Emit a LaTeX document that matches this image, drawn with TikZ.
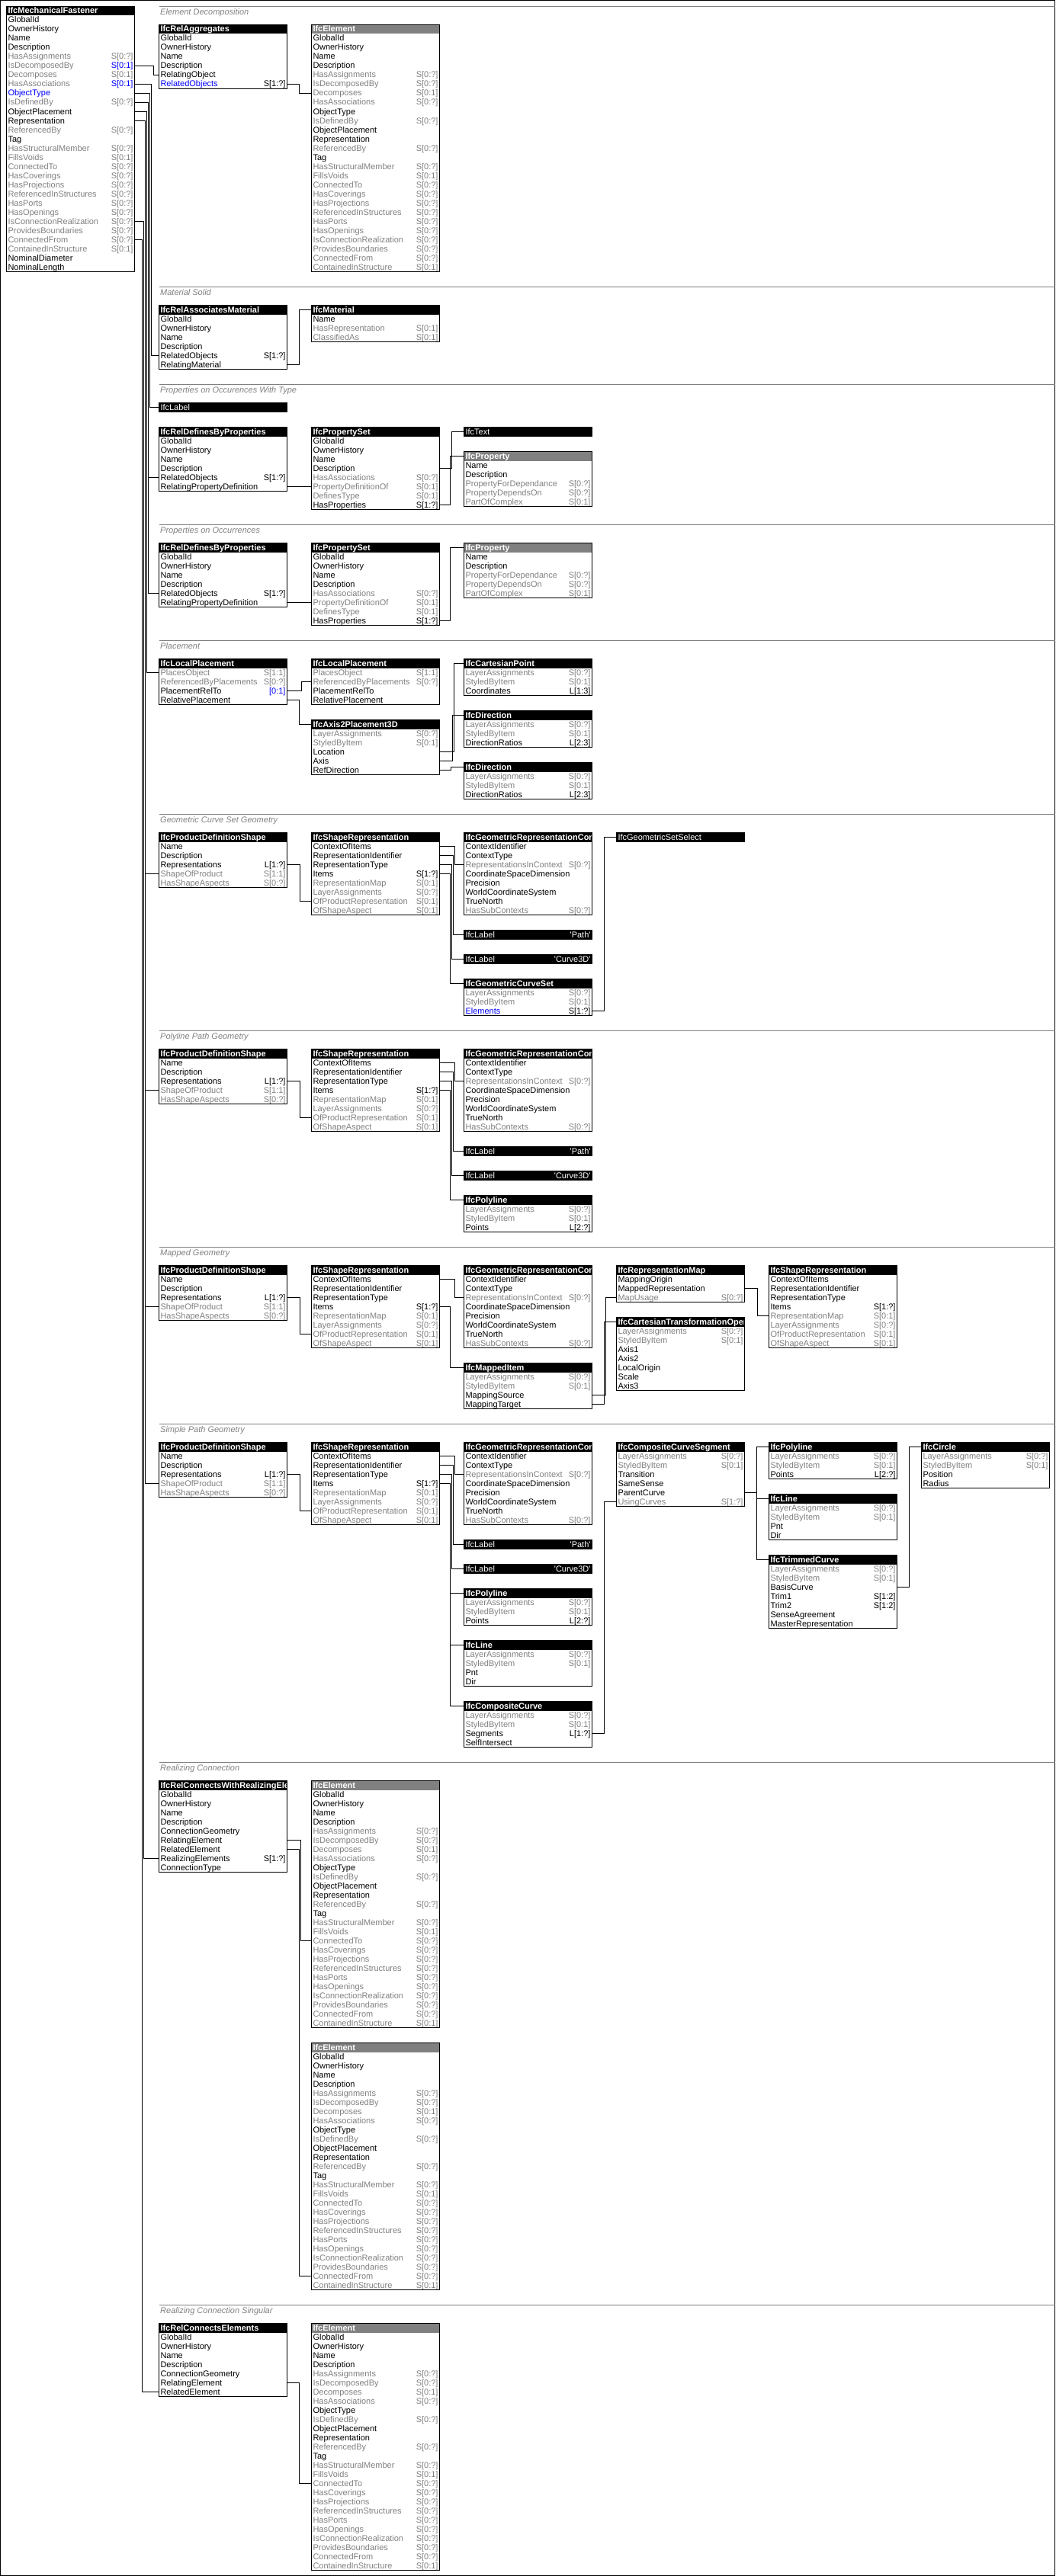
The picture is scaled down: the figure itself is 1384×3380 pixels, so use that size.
\documentclass[tikz,border=0pt]{standalone}
\usepackage{fontspec}
\setmainfont{Liberation Sans}
\definecolor{ifcgray}{RGB}{128,128,128}
\definecolor{ifcblue}{RGB}{0,0,255}
\colorlet{nma}{black}\colorlet{cda}{black}
\colorlet{nmi}{ifcgray}\colorlet{cdi}{ifcgray}
\colorlet{nmn}{ifcblue}\colorlet{cdn}{black}
\colorlet{nmc}{ifcgray}\colorlet{cdc}{ifcblue}
\colorlet{nmp}{black}\colorlet{cdp}{ifcblue}
\newcommand\entfont{\fontsize{11pt}{12pt}\selectfont}
\newcommand\entbox[6]{%
  \edef\entrows{#6}%
  \begin{scope}
    \clip (#2,#3) rectangle ++(168,12);
    \node[#4] (#1-1) at (#2,#3) {\makebox[164pt][l]{#5}};
  \end{scope}
  \foreach \an/\tc/\cd [count=\i from 2] in \entrows {
    \pgfmathsetmacro\ry{#3+12*(\i-1)}
    \node[attr] (#1-\i) at (#2,\ry) {\makebox[164pt][l]{\textcolor{nm\tc}{\an}\hfill\textcolor{cd\tc}{\cd}}};
    \xdef\entnrows{\i}
  }
  \draw[boxline] (#2,#3) rectangle ++(168,12*\entnrows);
}
\newcommand\enttype[4]{\node[typebox] (#1) at (#2,#3) {\makebox[164pt][l]{#4}};}
\newcommand\entlink[3]{\draw[wire] (#1.east) -- (#1.east -| #3,0) -- (#2.west -| #3,0) -- (#2.west);}
\def\rootrows{GlobalId/a/{},OwnerHistory/a/{},Name/a/{},Description/a/{}}
\def\geomrows{LayerAssignments/i/S[0:?],StyledByItem/i/S[0:1]}
\def\elmtail{ObjectPlacement/a/{},Representation/a/{},ReferencedBy/i/S[0:?],Tag/a/{},%
HasStructuralMember/i/S[0:?],FillsVoids/i/S[0:1],ConnectedTo/i/S[0:?],HasCoverings/i/S[0:?],%
HasProjections/i/S[0:?],ReferencedInStructures/i/S[0:?],HasPorts/i/S[0:?],HasOpenings/i/S[0:?],%
IsConnectionRealization/i/S[0:?],ProvidesBoundaries/i/S[0:?],ConnectedFrom/i/S[0:?],%
ContainedInStructure/i/S[0:1]}
\def\elmrows{\rootrows,HasAssignments/i/S[0:?],IsDecomposedBy/i/S[0:?],Decomposes/i/S[0:1],%
HasAssociations/i/S[0:?],ObjectType/a/{},IsDefinedBy/i/S[0:?],\elmtail}
\def\fasrows{\rootrows,HasAssignments/i/S[0:?],IsDecomposedBy/c/S[0:1],Decomposes/i/S[0:1],%
HasAssociations/c/S[0:1],ObjectType/n/{},IsDefinedBy/i/S[0:?],\elmtail,%
NominalDiameter/a/{},NominalLength/a/{}}
\def\psetrows{\rootrows,HasAssociations/i/S[0:?],PropertyDefinitionOf/i/S[0:1],%
DefinesType/i/S[0:1],HasProperties/a/S[1:?]}
\def\proprows{Name/a/{},Description/a/{},PropertyForDependance/i/S[0:?],%
PropertyDependsOn/i/S[0:?],PartOfComplex/i/S[0:1]}
\def\pdsrows{Name/a/{},Description/a/{},Representations/a/L[1:?],ShapeOfProduct/i/S[1:1],%
HasShapeAspects/i/S[0:?]}
\def\srrows{ContextOfItems/a/{},RepresentationIdentifier/a/{},RepresentationType/a/{},%
Items/a/S[1:?],RepresentationMap/i/S[0:1],LayerAssignments/i/S[0:?],%
OfProductRepresentation/i/S[0:1],OfShapeAspect/i/S[0:1]}
\def\grcrows{ContextIdentifier/a/{},ContextType/a/{},RepresentationsInContext/i/S[0:?],%
CoordinateSpaceDimension/a/{},Precision/a/{},WorldCoordinateSystem/a/{},TrueNorth/a/{},%
HasSubContexts/i/S[0:?]}
\begin{document}
\begin{tikzpicture}[x=1pt,y=-1pt,
  attr/.style={anchor=north west,minimum width=168pt,minimum height=12pt,inner xsep=2pt,
    inner ysep=0pt,outer sep=0pt,text height=9.5pt,text depth=2.5pt,font=\entfont},
  hdblack/.style={attr,fill=black,text=white,font=\entfont\bfseries},
  hdgray/.style={attr,fill=ifcgray,text=white,font=\entfont\bfseries},
  typebox/.style={attr,fill=black,text=white,draw=black,line width=1pt},
  boxline/.style={draw=black,line width=1pt},
  wire/.style={draw=black,line width=1pt},
  sepline/.style={draw=ifcgray,line width=1pt},
  seclabel/.style={anchor=base west,inner sep=0pt,text=ifcgray,font=\entfont\itshape}]
  \useasboundingbox (0,0) rectangle (1384,3380);
  \draw[boxline] (0.5,0.5) rectangle (1383.5,3379.5);
  \foreach \sy/\sn/\st in {8.5/secA/Element Decomposition,376.5/secB/Material Solid,
      504.5/secC/Properties on Occurences With Type,688.5/secD/Properties on Occurrences,
      840.5/secE/Placement,1068.5/secF/Geometric Curve Set Geometry,
      1352.5/secG/Polyline Path Geometry,1636.5/secH/Mapped Geometry,
      1868.5/secI/Simple Path Geometry,2312.5/secJ/Realizing Connection,
      3024.5/secK/Realizing Connection Singular} {
    \draw[sepline] (208.5,\sy) -- (1383.5,\sy);
    \node[seclabel] (\sn) at (210,\sy+11) {\st};
  }
  \entbox{fas}{8.5}{8.5}{hdblack}{IfcMechanicalFastener}{\fasrows}
  \entbox{agg}{208.5}{32.5}{hdblack}{IfcRelAggregates}{\rootrows,RelatingObject/a/{},RelatedObjects/n/S[1:?]}
  \entbox{elA}{408.5}{32.5}{hdgray}{IfcElement}{\elmrows}
  \entbox{ram}{208.5}{400.5}{hdblack}{IfcRelAssociatesMaterial}{\rootrows,RelatedObjects/a/S[1:?],RelatingMaterial/a/{}}
  \entbox{mat}{408.5}{400.5}{hdblack}{IfcMaterial}{Name/a/{},HasRepresentation/i/S[0:1],ClassifiedAs/i/S[0:1]}
  \enttype{lblT}{208.5}{528.5}{IfcLabel}
  \entbox{rdpA}{208.5}{560.5}{hdblack}{IfcRelDefinesByProperties}{\rootrows,RelatedObjects/a/S[1:?],RelatingPropertyDefinition/a/{}}
  \entbox{psA}{408.5}{560.5}{hdblack}{IfcPropertySet}{\psetrows}
  \enttype{txt}{608.5}{560.5}{IfcText}
  \entbox{prA}{608.5}{592.5}{hdgray}{IfcProperty}{\proprows}
  \entbox{rdpB}{208.5}{712.5}{hdblack}{IfcRelDefinesByProperties}{\rootrows,RelatedObjects/a/S[1:?],RelatingPropertyDefinition/a/{}}
  \entbox{psB}{408.5}{712.5}{hdblack}{IfcPropertySet}{\psetrows}
  \entbox{prB}{608.5}{712.5}{hdgray}{IfcProperty}{\proprows}
  \entbox{lpA}{208.5}{864.5}{hdblack}{IfcLocalPlacement}{PlacesObject/i/S[1:1],ReferencedByPlacements/i/S[0:?],PlacementRelTo/p/[0:1],RelativePlacement/a/{}}
  \entbox{lpB}{408.5}{864.5}{hdblack}{IfcLocalPlacement}{PlacesObject/i/S[1:1],ReferencedByPlacements/i/S[0:?],PlacementRelTo/a/{},RelativePlacement/a/{}}
  \entbox{axp}{408.5}{944.5}{hdblack}{IfcAxis2Placement3D}{\geomrows,Location/a/{},Axis/a/{},RefDirection/a/{}}
  \entbox{cpt}{608.5}{864.5}{hdblack}{IfcCartesianPoint}{\geomrows,Coordinates/a/L[1:3]}
  \entbox{dirA}{608.5}{932.5}{hdblack}{IfcDirection}{\geomrows,DirectionRatios/a/L[2:3]}
  \entbox{dirB}{608.5}{1000.5}{hdblack}{IfcDirection}{\geomrows,DirectionRatios/a/L[2:3]}
  \entbox{pdsA}{208.5}{1092.5}{hdblack}{IfcProductDefinitionShape}{\pdsrows}
  \entbox{srA}{408.5}{1092.5}{hdblack}{IfcShapeRepresentation}{\srrows}
  \entbox{grcA}{608.5}{1092.5}{hdblack}{IfcGeometricRepresentationContext}{\grcrows}
  \enttype{lbpA}{608.5}{1220.5}{IfcLabel\hfill\textquotesingle Path\textquotesingle}
  \enttype{lbcA}{608.5}{1252.5}{IfcLabel\hfill\textquotesingle Curve3D\textquotesingle}
  \entbox{gcs}{608.5}{1284.5}{hdblack}{IfcGeometricCurveSet}{\geomrows,Elements/n/S[1:?]}
  \enttype{gss}{808.5}{1092.5}{IfcGeometricSetSelect}
  \entbox{pdsB}{208.5}{1376.5}{hdblack}{IfcProductDefinitionShape}{\pdsrows}
  \entbox{srB}{408.5}{1376.5}{hdblack}{IfcShapeRepresentation}{\srrows}
  \entbox{grcB}{608.5}{1376.5}{hdblack}{IfcGeometricRepresentationContext}{\grcrows}
  \enttype{lbpB}{608.5}{1504.5}{IfcLabel\hfill\textquotesingle Path\textquotesingle}
  \enttype{lbcB}{608.5}{1536.5}{IfcLabel\hfill\textquotesingle Curve3D\textquotesingle}
  \entbox{plA}{608.5}{1568.5}{hdblack}{IfcPolyline}{\geomrows,Points/a/L[2:?]}
  \entbox{pdsC}{208.5}{1660.5}{hdblack}{IfcProductDefinitionShape}{\pdsrows}
  \entbox{srC}{408.5}{1660.5}{hdblack}{IfcShapeRepresentation}{\srrows}
  \entbox{grcC}{608.5}{1660.5}{hdblack}{IfcGeometricRepresentationContext}{\grcrows}
  \entbox{mpi}{608.5}{1788.5}{hdblack}{IfcMappedItem}{\geomrows,MappingSource/a/{},MappingTarget/a/{}}
  \entbox{rmp}{808.5}{1660.5}{hdblack}{IfcRepresentationMap}{MappingOrigin/a/{},MappedRepresentation/a/{},MapUsage/i/S[0:?]}
  \entbox{cto}{808.5}{1728.5}{hdblack}{IfcCartesianTransformationOperator3D}{\geomrows,Axis1/a/{},Axis2/a/{},LocalOrigin/a/{},Scale/a/{},Axis3/a/{}}
  \entbox{srM}{1008.5}{1660.5}{hdblack}{IfcShapeRepresentation}{\srrows}
  \entbox{pdsD}{208.5}{1892.5}{hdblack}{IfcProductDefinitionShape}{\pdsrows}
  \entbox{srD}{408.5}{1892.5}{hdblack}{IfcShapeRepresentation}{\srrows}
  \entbox{grcD}{608.5}{1892.5}{hdblack}{IfcGeometricRepresentationContext}{\grcrows}
  \enttype{lbpD}{608.5}{2020.5}{IfcLabel\hfill\textquotesingle Path\textquotesingle}
  \enttype{lbcD}{608.5}{2052.5}{IfcLabel\hfill\textquotesingle Curve3D\textquotesingle}
  \entbox{plB}{608.5}{2084.5}{hdblack}{IfcPolyline}{\geomrows,Points/a/L[2:?]}
  \entbox{lnA}{608.5}{2152.5}{hdblack}{IfcLine}{\geomrows,Pnt/a/{},Dir/a/{}}
  \entbox{ccv}{608.5}{2232.5}{hdblack}{IfcCompositeCurve}{\geomrows,Segments/a/L[1:?],SelfIntersect/a/{}}
  \entbox{ccs}{808.5}{1892.5}{hdblack}{IfcCompositeCurveSegment}{\geomrows,Transition/a/{},SameSense/a/{},ParentCurve/a/{},UsingCurves/i/S[1:?]}
  \entbox{plC}{1008.5}{1892.5}{hdblack}{IfcPolyline}{\geomrows,Points/a/L[2:?]}
  \entbox{lnB}{1008.5}{1960.5}{hdblack}{IfcLine}{\geomrows,Pnt/a/{},Dir/a/{}}
  \entbox{trc}{1008.5}{2040.5}{hdblack}{IfcTrimmedCurve}{\geomrows,BasisCurve/a/{},Trim1/a/S[1:2],Trim2/a/S[1:2],SenseAgreement/a/{},MasterRepresentation/a/{}}
  \entbox{cir}{1208.5}{1892.5}{hdblack}{IfcCircle}{\geomrows,Position/a/{},Radius/a/{}}
  \entbox{rcw}{208.5}{2336.5}{hdblack}{IfcRelConnectsWithRealizingElements}{\rootrows,ConnectionGeometry/a/{},RelatingElement/a/{},RelatedElement/a/{},RealizingElements/a/S[1:?],ConnectionType/a/{}}
  \entbox{elB}{408.5}{2336.5}{hdgray}{IfcElement}{\elmrows}
  \entbox{elC}{408.5}{2680.5}{hdgray}{IfcElement}{\elmrows}
  \entbox{rce}{208.5}{3048.5}{hdblack}{IfcRelConnectsElements}{\rootrows,ConnectionGeometry/a/{},RelatingElement/a/{},RelatedElement/a/{}}
  \entbox{elD}{408.5}{3048.5}{hdgray}{IfcElement}{\elmrows}
  \entlink{fas-7}{agg-6}{201}
  \entlink{agg-7}{elA-8}{392}
  \entlink{fas-9}{ram-6}{198}
  \entlink{fas-10}{lblT}{196}
  \entlink{fas-11}{rdpA-6}{194}
  \entlink{fas-11}{rdpB-6}{194}
  \entlink{fas-12}{lpA-2}{192}
  \foreach \tg in {pdsA,pdsB,pdsC,pdsD} {
    \entlink{fas-13}{\tg-5}{190}
  }
  \entlink{fas-24}{rcw-9}{188}
  \entlink{fas-26}{rce-8}{186}
  \entlink{ram-7}{mat-1}{392}
  \entlink{rdpA-7}{psA-7}{392}
  \entlink{psA-5}{txt}{592}
  \entlink{psA-9}{prA-1}{590}
  \entlink{rdpB-7}{psB-7}{392}
  \entlink{psB-9}{prB-1}{590}
  \entlink{lpA-4}{lpB-3}{395}
  \entlink{lpA-5}{axp-1}{392}
  \entlink{axp-4}{cpt-1}{595}
  \entlink{axp-5}{dirA-1}{593}
  \entlink{axp-6}{dirB-1}{591}
  \foreach \p/\s/\g in {pdsA/srA/grcA,pdsB/srB/grcB,pdsC/srC/grcC,pdsD/srD/grcD} {
    \entlink{\p-4}{\s-8}{393}
    \entlink{\s-2}{\g-4}{596}
  }
  \foreach \s/\lp/\lc in {srA/lbpA/lbcA,srB/lbpB/lbcB,srD/lbpD/lbcD} {
    \entlink{\s-3}{\lp}{594}
    \entlink{\s-4}{\lc}{592}
  }
  \entlink{srA-5}{gcs-1}{590}
  \entlink{gcs-4}{gss}{792}
  \entlink{srB-5}{plA-1}{590}
  \entlink{srC-5}{mpi-1}{590}
  \entlink{mpi-4}{rmp-4}{794}
  \entlink{mpi-5}{cto-1}{792}
  \entlink{rmp-3}{srM-6}{993}
  \entlink{srD-5}{plB-1}{590}
  \entlink{srD-5}{lnA-1}{590}
  \entlink{srD-5}{ccv-1}{590}
  \entlink{ccv-4}{ccs-7}{792}
  \entlink{ccs-6}{plC-1}{992}
  \entlink{ccs-6}{lnB-1}{992}
  \entlink{ccs-6}{trc-1}{992}
  \entlink{trc-4}{cir-1}{1192}
  \entlink{rcw-7}{elB-18}{394}
  \entlink{rcw-8}{elC-26}{392}
  \entlink{rce-7}{elD-18}{392}
\end{tikzpicture}
\end{document}
